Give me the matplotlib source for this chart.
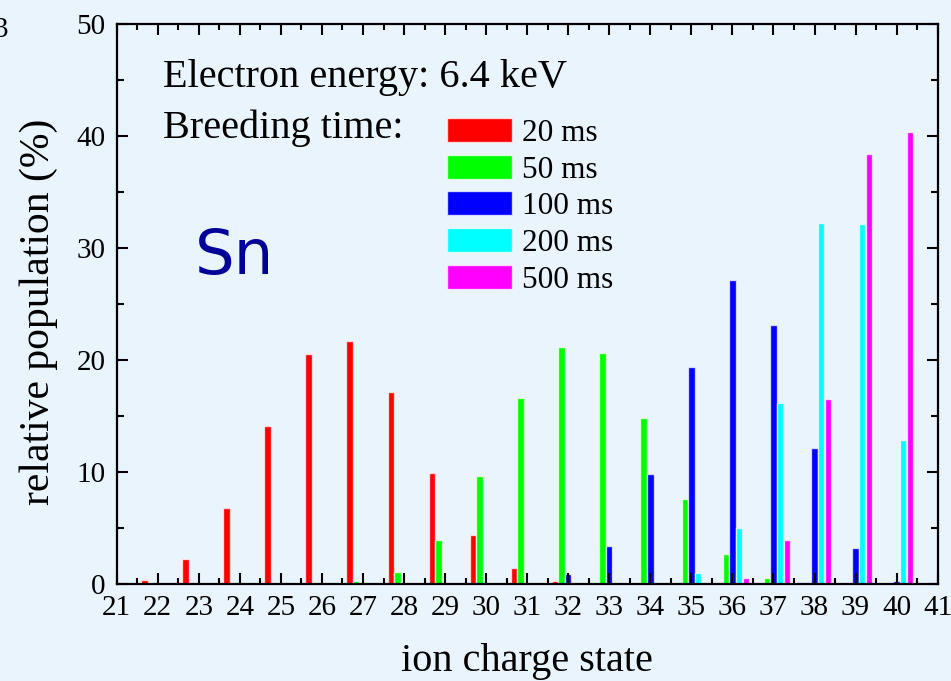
import numpy as np
import matplotlib.pyplot as plt
from matplotlib.ticker import MultipleLocator

plt.rcParams['font.family'] = ['Liberation Serif', 'DejaVu Serif']

charge = np.arange(22, 41)
#           22   23   24   25    26    27    28    29   30   31    32    33    34    35   36    37    38    39    40
t20 = [0.4, 2.2, 6.8, 14.1, 20.5, 21.7, 17.1, 9.9, 4.4, 1.4, 0.3, 0, 0, 0, 0, 0, 0, 0, 0]
t50 = [0, 0, 0, 0, 0, 0.3, 1.1, 3.9, 9.6, 16.6, 21.2, 20.6, 14.8, 7.6, 2.7, 0.5, 0, 0, 0]
t100 = [0, 0, 0, 0, 0, 0, 0, 0, 0, 0, 0.9, 3.4, 9.8, 19.4, 27.1, 23.1, 12.1, 3.2, 0.3]
t200 = [0, 0, 0, 0, 0, 0, 0, 0, 0, 0, 0, 0, 0, 1.0, 5.0, 16.2, 32.2, 32.1, 12.9]
t500 = [0, 0, 0, 0, 0, 0, 0, 0, 0, 0, 0, 0, 0, 0, 0.5, 3.9, 16.5, 38.4, 40.4]

series = [t20, t50, t100, t200, t500]
labels = ['20 ms', '50 ms', '100 ms', '200 ms', '500 ms']
colors = ['#ff0000', '#00ff00', '#0000ff', '#00ffff', '#ff00ff']

bg = '#eaf4fd'
fig = plt.figure(figsize=(9.51, 6.81), dpi=100, facecolor=bg)
ax = fig.add_axes([0.1227, 0.1424, 0.8633, 0.8224], facecolor=bg)

step = 0.1625
for i, (vals, lab, c) in enumerate(zip(series, labels, colors)):
    ax.bar(charge + (i - 2) * step, vals, width=0.155, color=c,
           edgecolor=(1, 1, 1, 0.7), linewidth=1.0, label=lab)

ax.set_xlim(21, 41)
ax.set_ylim(0, 50)
ax.xaxis.set_major_locator(MultipleLocator(1))
ax.xaxis.set_minor_locator(MultipleLocator(0.5))
ax.yaxis.set_major_locator(MultipleLocator(10))
ax.yaxis.set_minor_locator(MultipleLocator(5))
ax.tick_params(which='both', direction='in', top=True, right=True, width=1.5,
               labelsize=21, colors='black')
ax.tick_params(axis='x', which='major', length=8, pad=8)
ax.tick_params(axis='x', which='minor', length=4)
ax.tick_params(axis='y', which='major', length=8, pad=8)
ax.tick_params(axis='y', which='minor', length=5)
for sp in ax.spines.values():
    sp.set_linewidth(1.6)

ax.set_xlabel('ion charge state', fontsize=29)
ax.xaxis.label.set_va('center')
ax.xaxis.set_label_coords(0.5, -0.138)
ax.set_ylabel('relative population (%)', fontsize=30)
ax.yaxis.label.set_va('center')
ax.yaxis.set_label_coords(-0.0946, 0.486)

ax.text(0.057, 0.887, 'Electron energy: 6.4 keV', transform=ax.transAxes,
        fontsize=29, va='baseline')
ax.text(0.057, 0.797, 'Breeding time:', transform=ax.transAxes,
        fontsize=29, va='baseline')
ax.text(0.143, 0.553, 'Sn', transform=ax.transAxes, fontsize=45,
        color='#000099', family='DejaVu Sans', va='baseline', ha='center')

ax.legend(loc='upper left', bbox_to_anchor=(0.402, 0.832), frameon=False,
          fontsize=22.5, handlelength=2.1, handleheight=0.8, handletextpad=0.3,
          labelspacing=0.22, borderpad=0, borderaxespad=0)

fig.text(8 / 951, 1 - 37 / 681, '3', fontsize=21, ha='right', va='baseline')

fig.savefig('out.png', dpi=100, facecolor=bg)
